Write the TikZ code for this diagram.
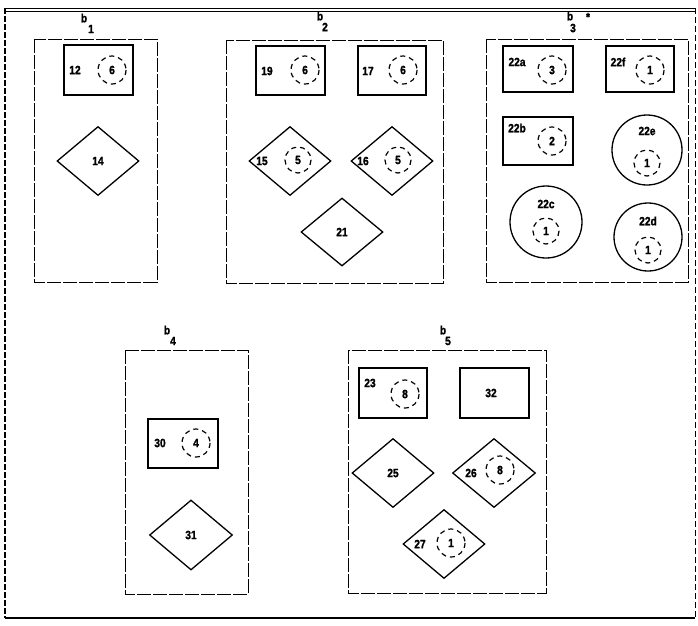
\documentclass[tikz,border=0pt]{standalone}
\usepackage{fontspec}
\usetikzlibrary{shapes.geometric}
\newfontfamily\dmfont[FakeStretch=0.85,FakeBold=1.5]{Liberation Sans}
\begin{document}
\begin{tikzpicture}[x=1pt,y=-1pt,
  lbl/.style={font=\dmfont\bfseries\fontsize{12}{13}\selectfont, inner sep=0pt},
  grp/.style={draw, line width=0.9pt, dash pattern=on 14pt off 2pt},
  unit/.style={draw, line width=1.6pt},
  dia/.style={draw, line width=1.3pt},
  ring/.style={draw, line width=1.3pt},
  sub/.style={draw, line width=1.2pt, dash pattern=on 5pt off 4pt}]
\useasboundingbox (0,0) rectangle (698,625);
% outer frame
\draw[line width=0.8pt] (5,8) -- (695,8);
\draw[line width=0.8pt] (5,11) -- (695,11);
\draw[line width=1.6pt, dash pattern=on 6pt off 2pt] (5,8) -- (5,618);
\draw[line width=0.7pt, dash pattern=on 6pt off 3pt] (695,8) -- (695,618);
\draw[line width=1.2pt] (5,618) -- (695,618);

% ---------- b1 ----------
\draw[grp] (34,39) rectangle (157,282);
\node[lbl] (b1) at (84,18) {b};
\node[lbl] (b1s) at (91,29) {1};
\draw[unit] (64,45) rectangle (133,95);
\node[lbl] (n12) at (75,70) {12};
\draw[sub] (112,70) circle (14);
\node[lbl] (n12c) at (112,70) {6};
\node[dia, diamond, minimum width=82pt, minimum height=69pt, inner sep=0pt] (n14) at (98,161) {};
\node[lbl] at (n14) {14};

% ---------- b2 ----------
\draw[grp] (226,40) rectangle (443,283);
\node[lbl] (b2) at (320,16) {b};
\node[lbl] (b2s) at (325,27) {2};
\draw[unit] (256,46) rectangle (325,95);
\node[lbl] (n19) at (267,71) {19};
\draw[sub] (305,70) circle (14);
\node[lbl] (n19c) at (305,70) {6};
\draw[unit] (358,46) rectangle (426,95);
\node[lbl] (n17) at (368,71) {17};
\draw[sub] (403,70) circle (14);
\node[lbl] (n17c) at (403,70) {6};
\node[dia, diamond, minimum width=82pt, minimum height=69pt, inner sep=0pt] (n15) at (290,161) {};
\node[lbl] (n15t) at (262,161) {15};
\draw[sub] (298,160) circle (13);
\node[lbl] (n15c) at (298,160) {5};
\node[dia, diamond, minimum width=82pt, minimum height=69pt, inner sep=0pt] (n16) at (392,161) {};
\node[lbl] (n16t) at (363,161) {16};
\draw[sub] (398,160) circle (13);
\node[lbl] (n16c) at (398,160) {5};
\node[dia, diamond, minimum width=82pt, minimum height=68pt, inner sep=0pt] (n21) at (342,232) {};
\node[lbl] at (n21) {21};

% ---------- b3 ----------
\draw[grp] (486,39) rectangle (688,282);
\node[lbl] (b3) at (570,16) {b};
\node[lbl] (b3s) at (573,28) {3};
\node[lbl] (b3a) at (588,17) {*};
\draw[unit] (503,46) rectangle (573,92);
\node[lbl] (n22a) at (517,62) {22a};
\draw[sub] (552,70) circle (14);
\node[lbl] (n22ac) at (552,70) {3};
\draw[unit] (606,46) rectangle (674,92);
\node[lbl] (n22f) at (618,62) {22f};
\draw[sub] (650,70) circle (14);
\node[lbl] (n22fc) at (650,70) {1};
\draw[unit] (503,117) rectangle (573,165);
\node[lbl] (n22b) at (517,128) {22b};
\draw[sub] (552,141) circle (14);
\node[lbl] (n22bc) at (552,141) {2};
\draw[ring] (647,150) circle (35);
\node[lbl] (n22e) at (647,131) {22e};
\draw[sub] (647,163) circle (13);
\node[lbl] (n22ec) at (647,163) {1};
\draw[ring] (546,222) circle (36);
\node[lbl] (n22c) at (546,204) {22c};
\draw[sub] (546,231) circle (13);
\node[lbl] (n22cc) at (546,231) {1};
\draw[ring] (648,237) circle (34);
\node[lbl] (n22d) at (648,221) {22d};
\draw[sub] (648,250) circle (13);
\node[lbl] (n22dc) at (648,250) {1};

% ---------- b4 ----------
\draw[grp] (125,350) rectangle (248,594);
\node[lbl] (b4) at (167,330) {b};
\node[lbl] (b4s) at (173,341) {4};
\draw[unit] (148,419) rectangle (218,468);
\node[lbl] (n30) at (160,443) {30};
\draw[sub] (196,443) circle (14);
\node[lbl] (n30c) at (196,443) {4};
\node[dia, diamond, minimum width=83pt, minimum height=70pt, inner sep=0pt] (n31) at (191,535) {};
\node[lbl] at (n31) {31};

% ---------- b5 ----------
\draw[grp] (348,350) rectangle (546,593);
\node[lbl] (b5) at (443,330) {b};
\node[lbl] (b5s) at (448,341) {5};
\draw[unit] (359,368) rectangle (427,418);
\node[lbl] (n23) at (370,383) {23};
\draw[sub] (405,394) circle (14);
\node[lbl] (n23c) at (405,394) {8};
\draw[unit] (460,368) rectangle (529,418);
\node[lbl] (n32) at (491,393) {32};
\node[dia, diamond, minimum width=82pt, minimum height=69pt, inner sep=0pt] (n25) at (393,473) {};
\node[lbl] at (n25) {25};
\node[dia, diamond, minimum width=83pt, minimum height=69pt, inner sep=0pt] (n26) at (494,473) {};
\node[lbl] (n26t) at (471,473) {26};
\draw[sub] (500,470) circle (14);
\node[lbl] (n26c) at (500,470) {8};
\node[dia, diamond, minimum width=82pt, minimum height=69pt, inner sep=0pt] (n27) at (444,544) {};
\node[lbl] (n27t) at (420,544) {27};
\draw[sub] (451,543) circle (14);
\node[lbl] (n27c) at (451,543) {1};
\end{tikzpicture}
\end{document}
